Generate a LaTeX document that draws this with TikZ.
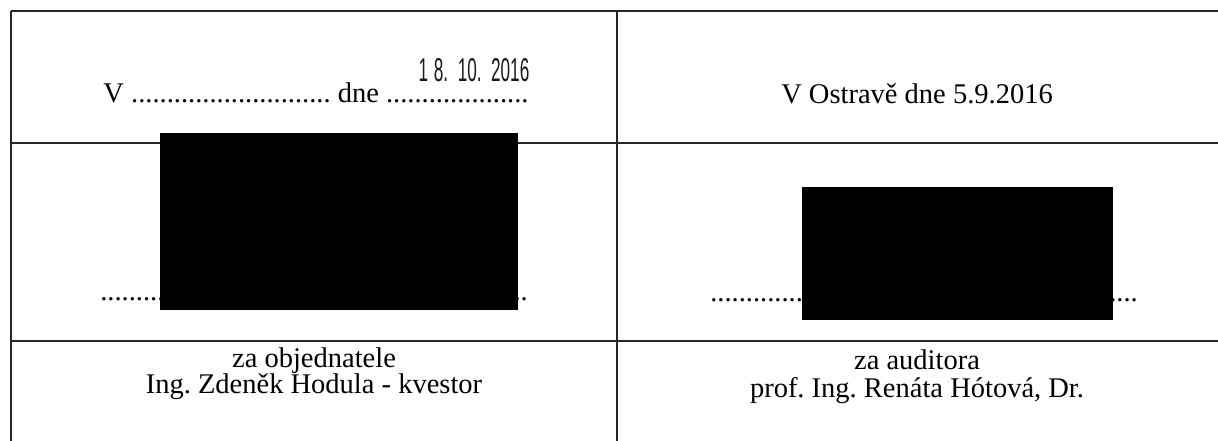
\documentclass[tikz,border=0pt]{standalone}
\usepackage{fontspec}
\setmainfont{Liberation Serif}
\newfontfamily\stampfont{Liberation Sans}
\frenchspacing
\tikzset{
  rule/.style={line width=1.3pt, draw=black!85},
  txt/.style={inner sep=0pt, anchor=base, font=\fontsize{28.5}{30}\selectfont},
  redact/.style={fill=black, draw=none},
}
\begin{document}
\begin{tikzpicture}[x=1pt,y=-1pt]
\useasboundingbox (0,0) rectangle (1218,441);
% grid coordinates
\coordinate (tl) at (11,11);
\coordinate (tr) at (1218,11);
\coordinate (m1l) at (11,143);
\coordinate (m1r) at (1218,143);
\coordinate (m2l) at (11,341);
\coordinate (m2r) at (1218,341);
\coordinate (bl) at (11,441);
\coordinate (mt) at (617,11);
\coordinate (mb) at (617,441);
\draw[rule] (tl) -- (tr);
\draw[rule] (m1l) -- (m1r);
\draw[rule] (m2l) -- (m2r);
\draw[rule] (tl) -- (bl);
\draw[rule] (mt) -- (mb);
% row 1
\node[txt] (place) at (316,103) {V ............................ dne ....................};
\node[inner sep=0pt, font=\stampfont\fontsize{33}{33}\selectfont, text=black!90] (stamp) at (474,70) {\scalebox{0.52}[1]{1\,\,8.\ \ 10.\ \ 2016}};
\node[txt] (ostrava) at (917,104) {V Ostravě dne 5.9.2016};
% row 2
\node[txt] (dotsl) at (314,300) {............................................................};
\node[txt] (dotsr) at (924,301) {............................................................};
\fill[redact] (160,133) rectangle (518,310);
\fill[redact] (802,187) rectangle (1113,320);
% row 3
\node[txt] (za1) at (314,367) {za objednatele};
\node[txt] (n1) at (314,393) {Ing. Zdeněk Hodula - kvestor};
\node[txt] (za2) at (917,369) {za auditora};
\node[txt] (n2) at (917,397) {prof. Ing. Renáta Hótová, Dr.};
\end{tikzpicture}
\end{document}
